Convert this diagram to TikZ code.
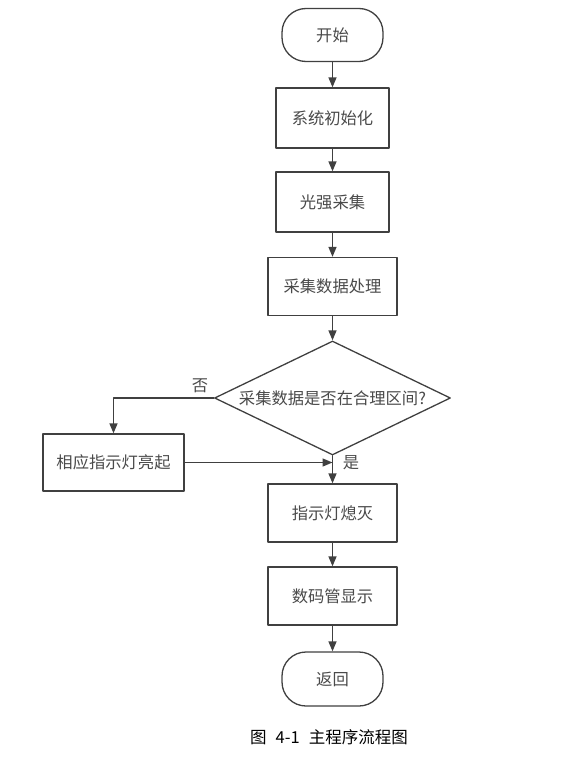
\documentclass[tikz,border=0pt]{standalone}
\usepackage{fontspec}
\newfontfamily\cjk{Noto Sans CJK SC}
\usepackage{tikz}
\usetikzlibrary{shapes.geometric,arrows.meta,positioning}
\definecolor{linegray}{HTML}{404040}
\definecolor{textgray}{HTML}{4A4A4A}

\begin{document}
\begin{tikzpicture}[
  x=1pt,
  y=1pt,
  font=\cjk\fontsize{16.3}{19}\selectfont,
  line cap=round,
  line join=round,
  >={Triangle[length=10pt,width=8pt]},
  box/.style={
    rectangle,
    minimum width=113pt,
    minimum height=60pt,
    align=center,
    inner sep=2pt,
    line width=1.3pt,
    draw=linegray,
    text=textgray,
    fill=white
  },
  wbox/.style={
    box,
    minimum width=129pt,
    minimum height=58pt
  },
  term/.style={
    box,
    rounded corners=24pt,
    minimum width=101pt,
    minimum height=53pt
  },
  cond/.style={
    diamond,
    aspect=2.07,
    minimum width=236pt,
    minimum height=114pt,
    inner sep=0pt,
    line width=1.3pt,
    draw=linegray,
    text=textgray,
    fill=white
  },
  arr/.style={
    ->,
    line width=1.4pt,
    draw=linegray
  },
  lbl/.style={
    text=textgray,
    inner sep=1pt
  }
]

\useasboundingbox (0,0) rectangle (566,-757);

\node[term] (S) at (332.5,-35) {开始};
\node[box] (I) at (332.5,-118) {系统初始化};
\node[box] (G) at (332.5,-202) {光强采集};
\node[wbox] (P) at (332.5,-286.5) {采集数据处理};
\node[cond] (D) at (332.5,-398) {采集数据是否在合理区间?};
\node[box, minimum width=141pt, minimum height=57pt] (L) at (113.5,-462.5) {相应指示灯亮起};
\node[wbox] (O) at (332.5,-513) {指示灯熄灭};
\node[wbox] (N) at (332.5,-596) {数码管显示};
\node[term, minimum height=54pt] (R) at (332.5,-679) {返回};
\coordinate (J) at (332.5,-462.5);

\node[lbl] (no) at (200,-386) {否};
\node[lbl] (yes) at (351,-463) {是};

\draw[arr] (S) -- (I);
\draw[arr] (I) -- (G);
\draw[arr] (G) -- (P);
\draw[arr] (P) -- (D);
\draw[arr] (D.west) -| (L.north);
\draw[arr] (L.east) -- (J);
\draw[arr] (D.south) -- (O.north);
\draw[arr] (O) -- (N);
\draw[arr] (N) -- (R);

\node[text=black, font=\cjk\fontsize{16.5}{19}\selectfont] (cap) at (329,-737) {图\hspace{9pt}4-1\hspace{9pt}主程序流程图};

\end{tikzpicture}
\end{document}
